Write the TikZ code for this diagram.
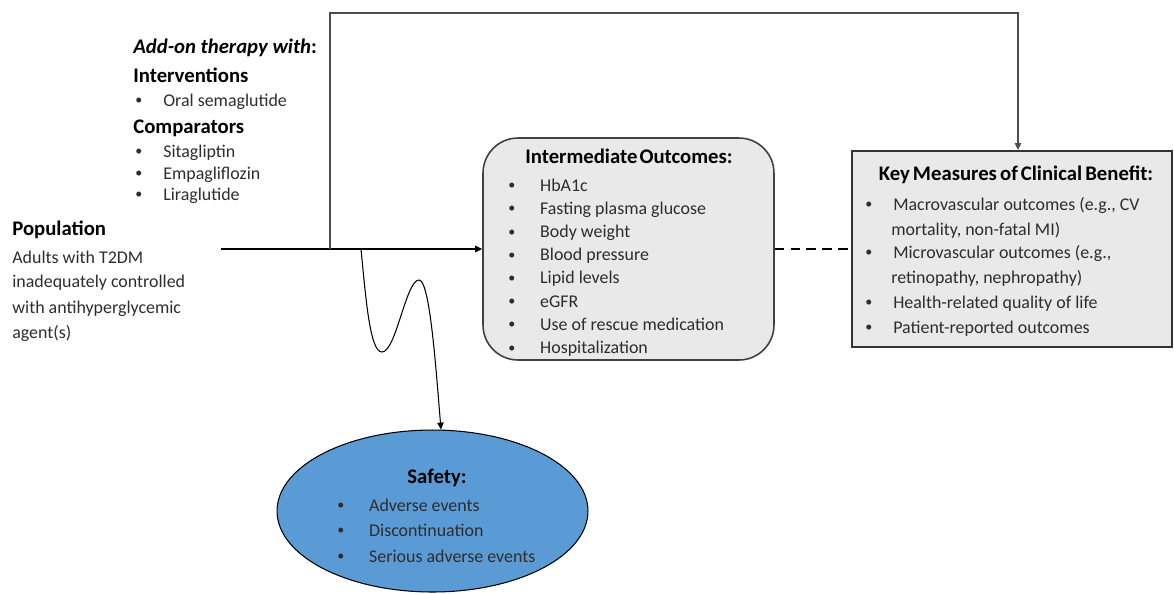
\documentclass[tikz,border=0pt]{standalone}
\usepackage{fontspec}
\setmainfont{Carlito}
\usetikzlibrary{shapes.geometric,arrows.meta}
\definecolor{boxgray}{RGB}{233,233,233}
\definecolor{safeblue}{RGB}{91,155,213}
\definecolor{txtgray}{RGB}{45,45,45}
\newcommand{\blt}[2][15.9pt]{\makebox[#1][l]{\raisebox{0.15ex}{\fontsize{8}{8}\selectfont\textbullet}}#2}

\begin{document}
\begin{tikzpicture}[x=0.02cm,y=-0.02cm,
    txt/.style={anchor=base west,inner sep=0pt,text=txtgray,font=\fontsize{10.2}{12}\selectfont},
    hdr/.style={anchor=base west,inner sep=0pt,font=\fontsize{11.8}{14}\selectfont\bfseries},
    arr/.style={-{Triangle[length=4pt,width=3.6pt]}}]
\useasboundingbox (0,0) rectangle (1174,593);

% Drawing the outcome boxes
\node [draw=black!75,line width=0.9pt,fill=boxgray,rounded corners=0.7cm,
       minimum width=5.82cm,minimum height=4.44cm,inner sep=0pt] (inter) at (628.5,249) {};
\node [draw=black!80,line width=1.1pt,fill=boxgray,
       minimum width=6.4cm,minimum height=3.92cm,inner sep=0pt] (key) at (1012,249) {};
\node [ellipse,draw,line width=0.6pt,fill=safeblue,
       minimum width=6.22cm,minimum height=3.24cm,inner sep=0pt] (safety) at (432.5,511) {};

% Drawing the main arrow
\coordinate (popend) at (221,249);
\coordinate (split) at (330,249);
\coordinate (branch) at (361,249);
\coordinate (topturn) at (1018,13);
\draw [arr,line width=1pt] (popend) -- (inter.west);

% Drawing the line to the key measures
\draw [arr,line width=0.8pt,black!70] (split) |- (topturn) -- (topturn |- key.north);

% Drawing the dashed link
\draw [line width=1pt,dash pattern=on 5.5pt off 3.5pt] (inter.east) -- (key.west);

% Drawing the wavy line to safety
\draw [arr,line width=0.6pt] (branch) .. controls (366,300) and (370,352) .. (382,352)
      .. controls (396,352) and (406,280) .. (419,280)
      .. controls (430,280) and (436,370) .. (safety.84);

% Marking the interventions
\node [hdr] (addon) at (133,53) {\textit{Add-on therapy with}:};
\node [hdr] (interv) at (133,82) {Interventions};
\node [txt] (ivoral) at (135,106) {\blt{Oral semaglutide}};
\node [hdr] (comp) at (133,133) {Comparators};
\node [txt] (cpsita) at (135,157) {\blt{Sitagliptin}};
\node [txt] (cpempa) at (135,179) {\blt{Empagliflozin}};
\node [txt] (cplira) at (135,200) {\blt{Liraglutide}};

% Marking the population
\node [hdr] (pop) at (12,235) {Population};
\node [txt] (popa) at (12,263) {Adults with T2DM};
\node [txt] (popb) at (12,287) {inadequately controlled};
\node [txt] (popc) at (12,313) {with antihyperglycemic};
\node [txt] (popd) at (12,338) {agent(s)};

% Marking the intermediate outcomes
\node [hdr,anchor=base] (intertitle) at (629,163) {Intermediate\hspace{0.1em}Outcomes:};
\node [txt] (im1) at (508,191) {\blt[18.1pt]{HbA1c}};
\node [txt] (im2) at (508,214.2) {\blt[18.1pt]{Fasting plasma glucose}};
\node [txt] (im3) at (508,237.4) {\blt[18.1pt]{Body weight}};
\node [txt] (im4) at (508,260.6) {\blt[18.1pt]{Blood pressure}};
\node [txt] (im5) at (508,283.8) {\blt[18.1pt]{Lipid levels}};
\node [txt] (im6) at (508,307) {\blt[18.1pt]{eGFR}};
\node [txt] (im7) at (508,330.2) {\blt[18.1pt]{Use of rescue medication}};
\node [txt] (im8) at (508,353.4) {\blt[18.1pt]{Hospitalization}};

% Marking the key measures
\node [hdr,anchor=base] (keytitle) at (1016,180) {Key\hspace{0.15em}Measures\hspace{0.15em}of\hspace{0.15em}Clinical\hspace{0.15em}Benefit:};
\node [txt] (km1) at (865,210) {\blt{Macrovascular outcomes (e.g., CV}};
\node [txt] (km1b) at (891,235) {mortality, non-fatal MI)};
\node [txt] (km2) at (865,258) {\blt{Microvascular outcomes (e.g.,}};
\node [txt] (km2b) at (891,283) {retinopathy, nephropathy)};
\node [txt] (km3) at (865,308) {\blt{Health-related quality of life}};
\node [txt] (km4) at (865,333) {\blt{Patient-reported outcomes}};

% Marking safety
\node [hdr,anchor=base] (safetitle) at (437,483) {Safety:};
\node [txt] (sf1) at (337,511) {\blt[18.1pt]{Adverse events}};
\node [txt] (sf2) at (337,536) {\blt[18.1pt]{Discontinuation}};
\node [txt] (sf3) at (337,562) {\blt[18.1pt]{Serious adverse events}};
\end{tikzpicture}
\end{document}
